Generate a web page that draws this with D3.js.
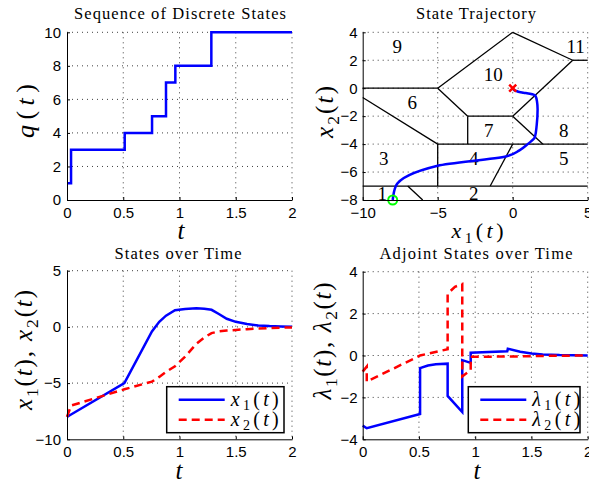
<!DOCTYPE html>
<html>
<head>
<meta charset="utf-8">
<script src="https://cdn.jsdelivr.net/npm/d3@7"></script>
<style>
  body { margin: 0; background: #fff; }
  svg { display: block; }
  .tick text { font-family: "Liberation Sans", Arial, sans-serif; font-size: 15px; fill: #000; }
</style>
</head>
<body>
<svg id="chart" width="589" height="483"></svg>
<script>
// ==============================
// DATA
// ==============================

// discrete mode sequence q(t)
const switchTimes = [0, 0.036, 0.513, 0.756, 0.88, 0.963, 1.283, 2];
const modeSeq = [1, 3, 4, 5, 7, 8, 10, 10];

// continuous states on a common time grid
const stateTime = [0, 0.036, 0.51, 0.755, 0.82, 0.88, 0.96, 1.05, 1.15, 1.22, 1.285, 1.35, 1.42, 1.5, 1.6, 1.7, 1.8, 1.9, 2.0];
const x1Values  = [-8, -7.79, -5, -0.4, 0.45, 1.0, 1.48, 1.6, 1.66, 1.62, 1.52, 1.15, 0.72, 0.45, 0.25, 0.13, 0.07, 0.04, 0.02];
const x2Values  = [-8, -7, -5.55, -4.87, -4.45, -4.0, -3.5, -2.65, -1.5, -0.95, -0.55, -0.4, -0.32, -0.27, -0.2, -0.15, -0.1, -0.07, -0.05];

// adjoint states (repeated times are jumps)
const lam1Time   = [0, 0.036, 0.51, 0.51, 0.58, 0.65, 0.755, 0.755, 0.885, 0.885, 0.96, 0.96, 1.285, 1.29, 1.4, 1.5, 1.6, 1.75, 2.0];
const lam1Values = [-3.35, -3.47, -2.79, -0.6, -0.48, -0.42, -0.39, -1.93, -2.7, -0.22, -0.35, 0.13, 0.2, 0.32, 0.18, 0.1, 0.05, 0.02, 0];
const lam2Time   = [0, 0.036, 0.036, 0.51, 0.755, 0.755, 0.82, 0.885, 0.885, 0.96, 0.96, 1.3, 1.6, 2.0];
const lam2Values = [-0.77, -0.53, -1.25, 0.0, 0.3, 2.95, 3.28, 3.41, -1.0, -0.7, -0.06, -0.05, -0.02, 0];

// region boundaries in the (x1, x2) plane: [xa, ya, xb, yb]
const regionEdges = [
  [-10, 0, -5, 0], [-5, 0, 0, 4], [0, 4, 4, 2], [4, 2, 5, 2],
  [4, 2, 0, -2], [-5, 0, -3, -2], [-3, -2, 0, -2], [-10, -0.67, -5, -4],
  [-3, -2, -3, -4], [0, -2, 2, -4], [-5, -4, 5, -4], [-5, -4, -5, -7],
  [0, -4, -1.5, -7], [-10, -7, 5, -7], [-7, -7, -6, -8]
];
const regionNames = ["1", "2", "3", "4", "5", "6", "7", "8", "9", "10", "11"];
const regionNameX = [-8.7, -2.6, -8.6, -2.6, 3.4, -6.7, -1.6, 3.4, -7.7, -1.3, 4.2];
const regionNameY = [-7.5, -7.5, -5.0, -5.0, -5.0, -1.0, -3.0, -3.0, 3.0, 1.0, 3.0];

// tick values
const timeTicks = [0, 0.5, 1, 1.5, 2];
const qTicks = [0, 2, 4, 6, 8, 10];
const trajXTicks = [-10, -5, 0, 5];
const trajYTicks = [-8, -6, -4, -2, 0, 2, 4];
const stateTicks = [-10, -5, 0, 5];
const adjTicks = [-4, -2, 0, 2, 4];

// ==============================
// HELPERS
// ==============================

const svg = d3.select("#chart");
const serif = '"Liberation Serif", "Times New Roman", serif';
const blue = "#0000ff";
const red = "#ff0000";

const fmt = d => d < 0 ? "\u2212" + Math.abs(d) : String(d);

function makePanel(box, xDomain, yDomain, xTicks, yTicks, yPad) {
  const x = d3.scaleLinear().domain(xDomain).range([box.l, box.r]);
  const y = d3.scaleLinear().domain(yDomain).range([box.b, box.t]);
  const g = svg.append("g");

  // dotted grid
  g.append("g").selectAll("line")
    .data(xTicks.filter(v => v !== xDomain[0]))
    .join("line")
    .attr("x1", d => x(d)).attr("x2", d => x(d))
    .attr("y1", box.t).attr("y2", box.b)
    .attr("stroke", "#000").attr("stroke-dasharray", "1,4").attr("opacity", 0.75);

  g.append("g").selectAll("line")
    .data(yTicks.filter(v => v !== yDomain[0]))
    .join("line")
    .attr("y1", d => y(d)).attr("y2", d => y(d))
    .attr("x1", box.l).attr("x2", box.r)
    .attr("stroke", "#000").attr("stroke-dasharray", "1,4").attr("opacity", 0.75);

  const plot = g.append("g");

  // axes (box off: left + bottom only)
  const ax = g.append("g");
  ax.append("g")
    .attr("transform", `translate(0,${box.b})`)
    .call(d3.axisBottom(x).tickValues(xTicks).tickFormat(fmt)
      .tickSizeInner(-3).tickSizeOuter(0).tickPadding(7));
  ax.append("g")
    .attr("transform", `translate(${box.l},0)`)
    .call(d3.axisLeft(y).tickValues(yTicks).tickFormat(fmt)
      .tickSizeInner(-3).tickSizeOuter(0).tickPadding(yPad));
  ax.selectAll(".domain, .tick line").attr("stroke", "#000");

  return { x, y, plot };
}

// math-style label: parts are [text, kind] with kind "i" italic, "s" subscript, "" upright
function mathLabel(x, y, parts, size, rotate, width) {
  const t = svg.append("text")
    .attr("font-family", serif)
    .attr("font-size", size)
    .attr("text-anchor", "middle")
    .attr("transform", `translate(${x},${y})` + (rotate ? " rotate(-90)" : ""));
  let down = 0;
  parts.forEach(([s, kind]) => {
    const span = t.append("tspan").text(s);
    if (kind === "s") {
      span.attr("font-size", size * 0.7).attr("font-style", "normal").attr("dy", size * 0.22);
      down = size * 0.22;
    } else {
      span.attr("font-style", kind === "i" ? "italic" : "normal");
      if (down) { span.attr("dy", -down); down = 0; }
    }
  });
  if (width) t.attr("textLength", width).attr("lengthAdjust", "spacing");
  return t;
}

function title(x, y, s, width) {
  svg.append("text")
    .attr("x", x).attr("y", y)
    .attr("text-anchor", "middle")
    .attr("font-family", serif).attr("font-size", 16.5)
    .attr("textLength", width).attr("lengthAdjust", "spacing")
    .text(s);
}

function legend(box, entries) {
  const g = svg.append("g");
  g.append("rect")
    .attr("x", box.l).attr("y", box.t)
    .attr("width", box.r - box.l).attr("height", box.b - box.t)
    .attr("fill", "#fff").attr("stroke", "#000").attr("stroke-width", 1.5);
  entries.forEach((e, i) => {
    const yy = box.t + 13 + i * 20;
    g.append("line")
      .attr("x1", box.l + 12).attr("x2", box.l + 58)
      .attr("y1", yy).attr("y2", yy)
      .attr("stroke", e.color).attr("stroke-width", 2.5)
      .attr("stroke-dasharray", e.dash || null);
    mathLabel(box.l + 88, yy + 6, e.label, 20, false, 48);
  });
}

const sub = (v, n) => [[v, "i"], [n, "s"], ["(", ""], ["t", "i"], [")", ""]];

// ==============================
// PANEL 1: q(t)
// ==============================

const p1 = makePanel({ l: 67, r: 292, t: 32.3, b: 200 }, [0, 2], [0, 10], timeTicks, qTicks, 6);
p1.plot.append("path")
  .datum(switchTimes.map((t, i) => [t, modeSeq[i]]))
  .attr("fill", "none").attr("stroke", blue).attr("stroke-width", 2.5)
  .attr("d", d3.line().x(d => p1.x(d[0])).y(d => p1.y(d[1])).curve(d3.curveStepAfter));

title(180, 19, "Sequence of Discrete States", 212);
mathLabel(181, 239, [["t", "i"]], 25, false);
mathLabel(34, 111, [["q", "i"], ["(", ""], ["t", "i"], [")", ""]], 26, true, 54);

// ==============================
// PANEL 2: trajectory
// ==============================

const p2 = makePanel({ l: 362.7, r: 587.7, t: 32.3, b: 200 }, [-10, 5], [-8, 4], trajXTicks, trajYTicks, 5);
p2.plot.append("g").selectAll("line")
  .data(regionEdges)
  .join("line")
  .attr("x1", d => p2.x(d[0])).attr("y1", d => p2.y(d[1]))
  .attr("x2", d => p2.x(d[2])).attr("y2", d => p2.y(d[3]))
  .attr("stroke", "#000").attr("stroke-width", 1.3);

p2.plot.append("g").selectAll("text")
  .data(regionNames)
  .join("text")
  .attr("x", (d, i) => p2.x(regionNameX[i]))
  .attr("y", (d, i) => p2.y(regionNameY[i]) + 6.5)
  .attr("text-anchor", "middle")
  .attr("font-family", serif).attr("font-size", 19)
  .text(d => d);

p2.plot.append("path")
  .datum(stateTime.map((t, i) => [x1Values[i], x2Values[i]]))
  .attr("fill", "none").attr("stroke", blue).attr("stroke-width", 2.5)
  .attr("stroke-linejoin", "round")
  .attr("d", d3.line().x(d => p2.x(d[0])).y(d => p2.y(d[1])).curve(d3.curveMonotoneY));

// start (green circle) and end (red cross)
p2.plot.append("circle")
  .attr("cx", p2.x(x1Values[0])).attr("cy", p2.y(x2Values[0])).attr("r", 4.5)
  .attr("fill", "none").attr("stroke", "#00ff00").attr("stroke-width", 2);
const ex = p2.x(0), ey = p2.y(0);
p2.plot.append("path")
  .attr("d", `M${ex - 3.5},${ey - 3.5}L${ex + 3.5},${ey + 3.5}M${ex - 3.5},${ey + 3.5}L${ex + 3.5},${ey - 3.5}`)
  .attr("stroke", red).attr("stroke-width", 2.5);

title(476, 19, "State Trajectory", 120);
mathLabel(477.5, 238, sub("x", "1"), 22, false, 52);
mathLabel(333, 112, sub("x", "2"), 25, true, 52);

// ==============================
// PANEL 3: states over time
// ==============================

const p3 = makePanel({ l: 67, r: 292, t: 270.7, b: 439.3 }, [0, 2], [-10, 5], timeTicks, stateTicks, 6);
const line3 = vals => d3.line().x((d, i) => p3.x(stateTime[i])).y(d => p3.y(d))(vals);
p3.plot.append("path").attr("d", line3(x1Values))
  .attr("fill", "none").attr("stroke", blue).attr("stroke-width", 2.5);
p3.plot.append("path").attr("d", line3(x2Values))
  .attr("fill", "none").attr("stroke", red).attr("stroke-width", 2.5).attr("stroke-dasharray", "8,5");

legend({ l: 166.7, r: 284, t: 386.7, b: 432.7 }, [
  { color: blue, label: sub("x", "1") },
  { color: red, dash: "8,5", label: sub("x", "2") }
]);

title(178, 259, "States over Time", 127);
mathLabel(179, 479, [["t", "i"]], 25, false);
mathLabel(32, 350, [...sub("x", "1"), [", ", ""], ...sub("x", "2")], 25, true, 120);

// ==============================
// PANEL 4: adjoint states
// ==============================

const p4 = makePanel({ l: 362.7, r: 587.7, t: 271.7, b: 439.3 }, [0, 2], [-4, 4], timeTicks, adjTicks, 5);
const line4 = (ts, vals) => d3.line().x((d, i) => p4.x(ts[i])).y(d => p4.y(d))(vals);
p4.plot.append("path").attr("d", line4(lam1Time, lam1Values))
  .attr("fill", "none").attr("stroke", blue).attr("stroke-width", 2.5);
p4.plot.append("path").attr("d", line4(lam2Time, lam2Values))
  .attr("fill", "none").attr("stroke", red).attr("stroke-width", 2.5).attr("stroke-dasharray", "8,5");

legend({ l: 468.3, r: 580, t: 386.7, b: 432.7 }, [
  { color: blue, label: sub("\u03bb", "1") },
  { color: red, dash: "8,5", label: sub("\u03bb", "2") }
]);

title(476, 259, "Adjoint States over Time", 193);
mathLabel(477, 479, [["t", "i"]], 25, false);
mathLabel(331, 341, [...sub("\u03bb", "1"), [", ", ""], ...sub("\u03bb", "2")], 25, true, 117);
</script>
</body>
</html>
